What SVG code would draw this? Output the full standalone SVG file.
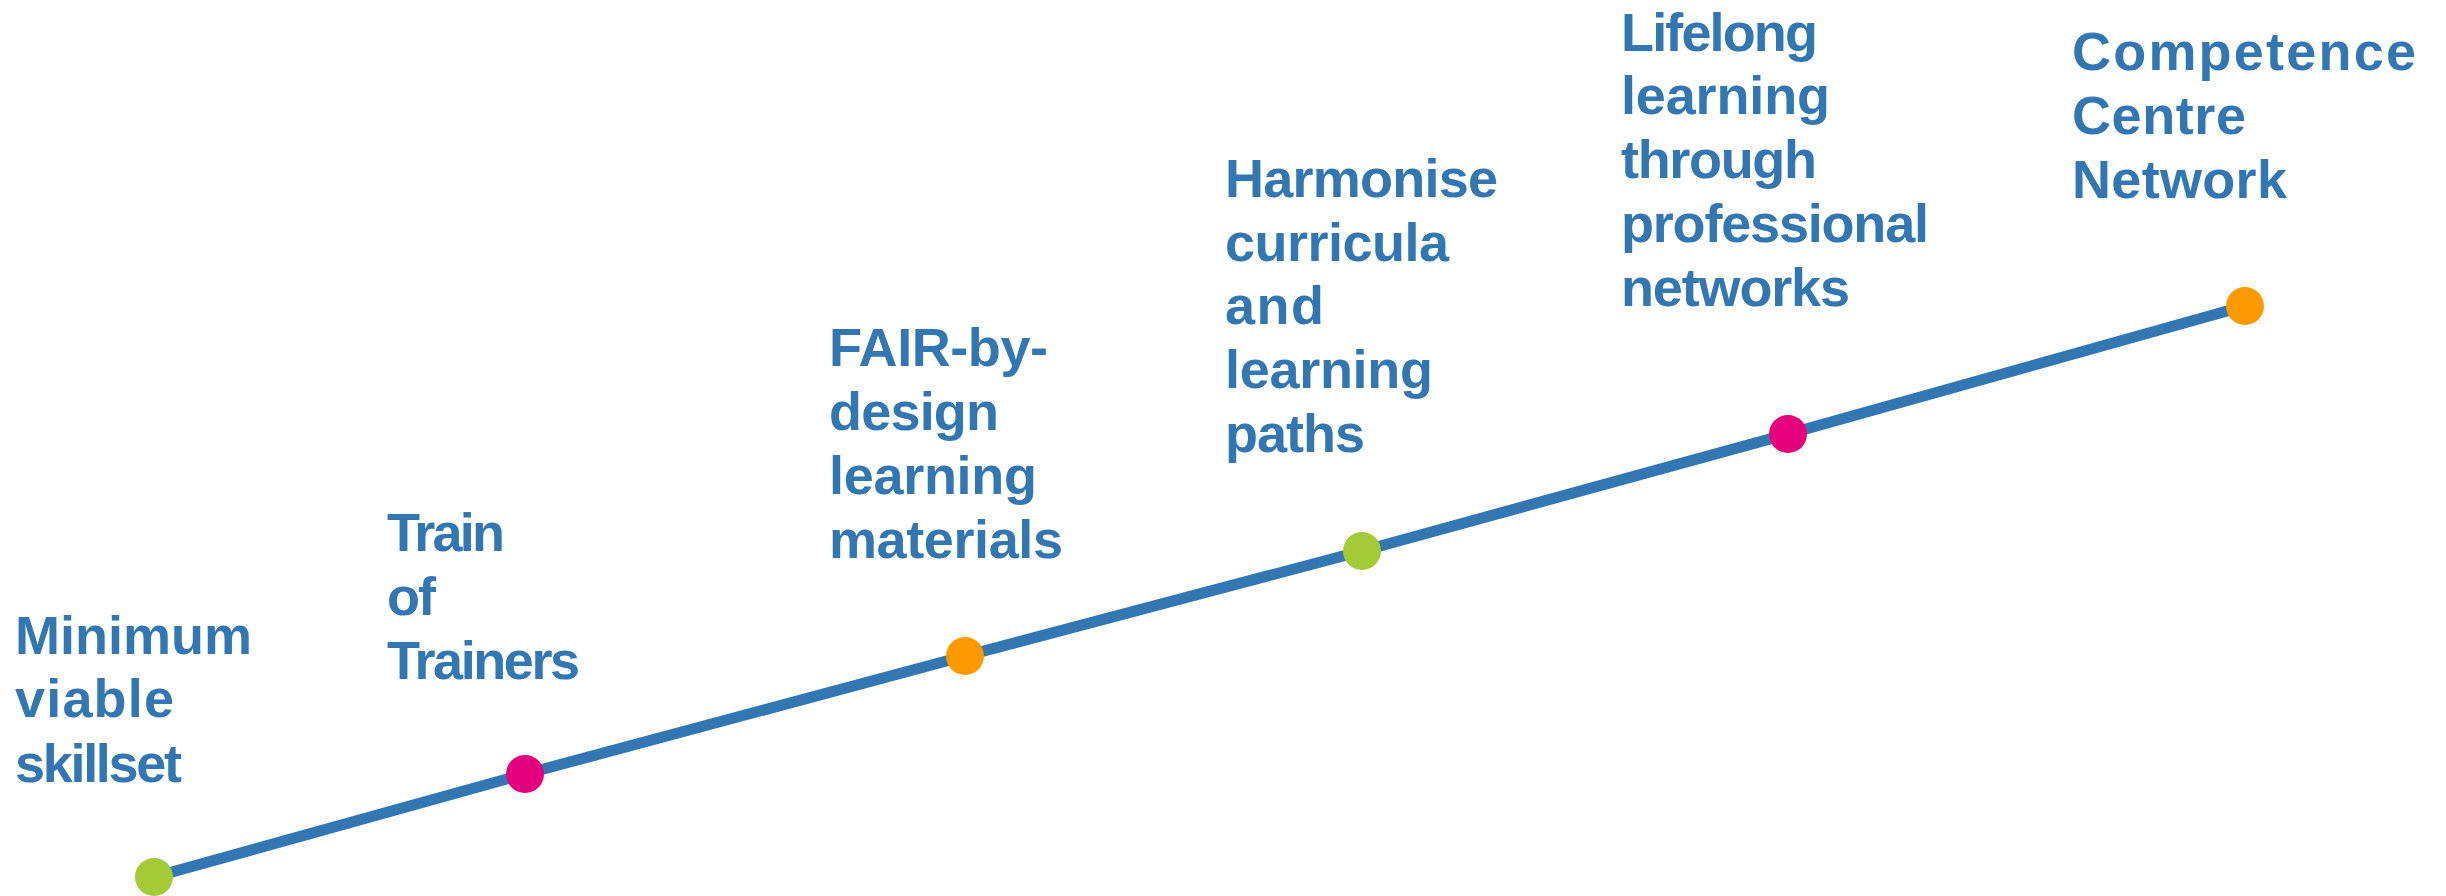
<svg xmlns="http://www.w3.org/2000/svg" width="2446" height="896" viewBox="0 0 2446 896">
<style>
.lbl{font-family:"Liberation Sans",Arial,sans-serif;font-weight:bold;font-size:54px;fill:#3277B2}
.green{fill:#A5CA38}
.pink{fill:#E5007D}
.orange{fill:#FF9900}
</style>
<rect width="2446" height="896" fill="#FFFFFF"/>
<g id="connectors">
<polyline points="138,881 154,877 525,774 965,656 1362,551 1788,434 2245,306" fill="none" stroke="#3277B2" stroke-width="11" stroke-linejoin="round"/>
</g>
<g id="node1">
<circle class="green" cx="154" cy="877" r="19"/>
<text class="lbl"><tspan x="15" y="654" textLength="237" lengthAdjust="spacing">Minimum</tspan><tspan x="15" y="717" textLength="159" lengthAdjust="spacing">viable</tspan><tspan x="15" y="782" textLength="167" lengthAdjust="spacing">skillset</tspan></text>
</g>
<g id="node2">
<circle class="pink" cx="525" cy="774" r="19"/>
<text class="lbl"><tspan x="387" y="551" textLength="118" lengthAdjust="spacing">Train</tspan><tspan x="387" y="615" textLength="49" lengthAdjust="spacing">of</tspan><tspan x="387" y="679" textLength="193" lengthAdjust="spacing">Trainers</tspan></text>
</g>
<g id="node3">
<circle class="orange" cx="965" cy="656" r="19"/>
<text class="lbl"><tspan x="829" y="366" textLength="219" lengthAdjust="spacing">FAIR-by-</tspan><tspan x="829" y="430" textLength="170" lengthAdjust="spacing">design</tspan><tspan x="829" y="494" textLength="208" lengthAdjust="spacing">learning</tspan><tspan x="829" y="558" textLength="234" lengthAdjust="spacing">materials</tspan></text>
</g>
<g id="node4">
<circle class="green" cx="1362" cy="551" r="19"/>
<text class="lbl"><tspan x="1225" y="197" textLength="273" lengthAdjust="spacing">Harmonise</tspan><tspan x="1225" y="261" textLength="224" lengthAdjust="spacing">curricula</tspan><tspan x="1225" y="324" textLength="99" lengthAdjust="spacing">and</tspan><tspan x="1225" y="388" textLength="208" lengthAdjust="spacing">learning</tspan><tspan x="1225" y="452" textLength="140" lengthAdjust="spacing">paths</tspan></text>
</g>
<g id="node5">
<circle class="pink" cx="1788" cy="434" r="19"/>
<text class="lbl"><tspan x="1621" y="51" textLength="197" lengthAdjust="spacing">Lifelong</tspan><tspan x="1621" y="114" textLength="209" lengthAdjust="spacing">learning</tspan><tspan x="1621" y="178" textLength="196" lengthAdjust="spacing">through</tspan><tspan x="1621" y="242" textLength="308" lengthAdjust="spacing">professional</tspan><tspan x="1621" y="306" textLength="229" lengthAdjust="spacing">networks</tspan></text>
</g>
<g id="node6">
<circle class="orange" cx="2245" cy="306" r="19"/>
<text class="lbl"><tspan x="2072" y="70" textLength="344" lengthAdjust="spacing">Competence</tspan><tspan x="2072" y="134" textLength="174" lengthAdjust="spacing">Centre</tspan><tspan x="2072" y="198" textLength="215" lengthAdjust="spacing">Network</tspan></text>
</g>
</svg>
